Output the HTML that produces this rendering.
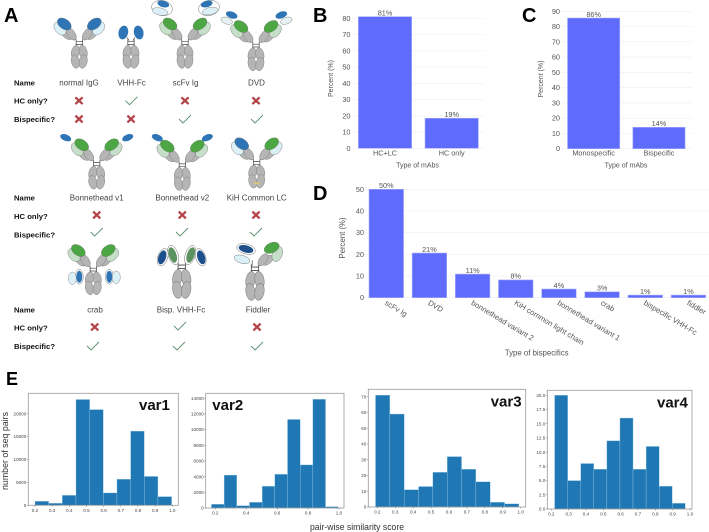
<!DOCTYPE html>
<html lang="en">
<head>
<meta charset="utf-8">
<title>Antibody formats figure</title>
<style>
html,body{margin:0;padding:0;background:#fff;}
body{width:709px;height:532px;overflow:hidden;}
svg{display:block;font-family:"Liberation Sans",sans-serif;filter:blur(.3px);}
.lobe{fill:#b5b5b5;stroke:#808080;stroke-width:.45;}
.vh{fill:var(--h);stroke:#666;stroke-width:.3;}
.vl{fill:var(--l);stroke:#777;stroke-width:.4;}
.vh2{fill:var(--h2,var(--h));stroke:#666;stroke-width:.3;}
.vl2{fill:var(--l2,var(--l));stroke:#777;stroke-width:.4;}
.panel{font-weight:bold;fill:#000;}
.rowh{font-weight:bold;font-size:7.7px;fill:#111;}
.nm{font-size:8px;fill:#444;text-anchor:middle;}
.tick{font-size:7.3px;fill:#555;}
.title{font-size:7px;fill:#555;text-anchor:middle;}
.ht{font-size:4.6px;fill:#444;}
.vt{font-size:15px;font-weight:bold;fill:#111;}
</style>
</head>
<body>
<svg id="fig" width="709" height="532" viewBox="0 0 709 532" xmlns="http://www.w3.org/2000/svg">
<defs>
  <g id="fc">
    <g fill="none" stroke="#444" stroke-width=".7">
      <path d="M-3.2-4V2.8M3.2-4V2.8M-3.2-1.8H3.2M-3.2 1H3.2"/>
    </g>
    <ellipse class="lobe" cx="-3.9" cy="8.6" rx="4" ry="6.9" transform="rotate(12 -3.9 8.6)"/>
    <ellipse class="lobe" cx="3.9" cy="8.6" rx="4" ry="6.9" transform="rotate(-12 3.9 8.6)"/>
    <ellipse class="lobe" cx="-3.9" cy="18" rx="4" ry="6.9" transform="rotate(-12 -3.9 18)"/>
    <ellipse class="lobe" cx="3.9" cy="18" rx="4" ry="6.9" transform="rotate(12 3.9 18)"/>
  </g>
  <g id="arm">
    <path d="M-3.2-3.5L-5-6" stroke="#555" stroke-width=".7" fill="none"/>
    <ellipse class="lobe" cx="-12.5" cy="-9" rx="3.8" ry="6.5" transform="rotate(-50 -12.5 -9)"/>
    <ellipse class="lobe" cx="-8" cy="-9.5" rx="3.8" ry="7" transform="rotate(-35 -8 -9.5)"/>
  </g>
  <g id="ig">
    <use href="#fc"/>
    <use href="#arm"/>
    <use href="#arm" transform="scale(-1,1)"/>
    <ellipse class="vl" cx="-19.3" cy="-15" rx="5" ry="7.5" transform="rotate(-40 -19.3 -15)"/>
    <ellipse class="vh" cx="-15" cy="-19.5" rx="7.8" ry="5" transform="rotate(35 -15 -19.5)"/>
    <ellipse class="vl2" cx="19.3" cy="-15" rx="5" ry="7.5" transform="rotate(40 19.3 -15)"/>
    <ellipse class="vh2" cx="15" cy="-19.5" rx="7.8" ry="5" transform="rotate(-35 15 -19.5)"/>
  </g>
  <g id="xm"><path d="M-3.6-3.4L3.6 3.4M-3.6 3.4L3.6-3.4" stroke="#b5434a" stroke-width="2.3" fill="none"/></g>
  <g id="ck"><path d="M-6 0L-2 4L6-4" stroke="#5a8f6e" stroke-width=".9" fill="none"/></g>
</defs>
<rect width="709" height="532" fill="#fff"/>

<text class="panel" x="4" y="22" font-size="20">A</text>
<text class="panel" x="313" y="22" font-size="20">B</text>
<text class="panel" x="522" y="22" font-size="20">C</text>
<text class="panel" x="313" y="200" font-size="20">D</text>
<text class="panel" x="6" y="385" font-size="18">E</text>

<g transform="translate(79.3,43.5)" style="--h:#2f75b5;--l:#dcf0f7"><use href="#ig"/></g>
<g transform="translate(131,43.5)">
  <path d="M-2-3L-4-6M2-3L4-6" stroke="#555" stroke-width=".7"/>
  <use href="#fc"/>
  <ellipse cx="-7.7" cy="-11" rx="4.8" ry="7" transform="rotate(12 -7.7 -11)" fill="#2f75b5"/>
  <ellipse cx="7.7" cy="-11" rx="4.8" ry="7" transform="rotate(-12 7.7 -11)" fill="#2f75b5"/>
</g>
<g transform="translate(185,43.5)" style="--h:#4da644;--l:#c6dfc8">
  <use href="#ig"/>
  <ellipse cx="-23" cy="-35.5" rx="10.5" ry="7.5" transform="rotate(12 -23 -35.5)" fill="#fff" stroke="#555" stroke-width=".4"/>
  <ellipse cx="-25" cy="-32" rx="8" ry="3.6" transform="rotate(12 -25 -32)" fill="#dcf0f7" stroke="#777" stroke-width=".4"/>
  <ellipse cx="-21.7" cy="-39.5" rx="6" ry="3.2" transform="rotate(15 -21.7 -39.5)" fill="#2f75b5"/>
  <ellipse cx="24" cy="-35.5" rx="10.5" ry="7.5" transform="rotate(-12 24 -35.5)" fill="#fff" stroke="#555" stroke-width=".4"/>
  <ellipse cx="25" cy="-32.5" rx="8" ry="3.6" transform="rotate(-12 25 -32.5)" fill="#dcf0f7" stroke="#777" stroke-width=".4"/>
  <ellipse cx="21.7" cy="-39.5" rx="6" ry="3.2" transform="rotate(-15 21.7 -39.5)" fill="#2f75b5"/>
</g>
<g transform="translate(256,46)" style="--h:#4da644;--l:#c6dfc8">
  <use href="#ig"/>
  <ellipse cx="-24.3" cy="-31" rx="6" ry="3.3" transform="rotate(20 -24.3 -31)" fill="#2f75b5"/>
  <ellipse cx="-29.3" cy="-25.3" rx="6" ry="3.3" transform="rotate(20 -29.3 -25.3)" fill="#e6f2f4" stroke="#777" stroke-width=".4"/>
  <ellipse cx="25.3" cy="-31" rx="6" ry="3.3" transform="rotate(-20 25.3 -31)" fill="#2f75b5"/>
  <ellipse cx="30.3" cy="-25.3" rx="6" ry="3.3" transform="rotate(-20 30.3 -25.3)" fill="#e6f2f4" stroke="#777" stroke-width=".4"/>
</g>
<g transform="translate(96.7,164.3)" style="--h:#4da644;--l:#c6dfc8">
  <use href="#ig"/>
  <ellipse cx="-31" cy="-26.6" rx="5.8" ry="3.2" transform="rotate(22 -31 -26.6)" fill="#2f75b5"/>
  <ellipse cx="31" cy="-26.6" rx="5.8" ry="3.2" transform="rotate(-22 31 -26.6)" fill="#2f75b5"/>
</g>
<g transform="translate(182.3,165.7)" style="--h:#4da644;--l:#c6dfc8">
  <use href="#ig"/>
  <ellipse cx="-25" cy="-28" rx="5.8" ry="3.2" transform="rotate(22 -25 -28)" fill="#2f75b5"/>
  <ellipse cx="25" cy="-28" rx="5.8" ry="3.2" transform="rotate(-22 25 -28)" fill="#2f75b5"/>
</g>
<g transform="translate(256.7,163.3)" style="--h:#2f75b5;--l:#dcf0f7;--h2:#4da644;--l2:#d8eef2">
  <use href="#ig"/>
  <ellipse cx="0" cy="20" rx="3.4" ry="1.1" fill="#d8c878"/>
</g>
<g transform="translate(93.3,270)" style="--h:#4da644;--l:#c6dfc8">
  <use href="#ig"/>
  <ellipse cx="-14" cy="6.7" rx="4" ry="7.5" fill="#fff" stroke="#555" stroke-width=".4"/>
  <ellipse cx="-21" cy="8.3" rx="4" ry="6.3" fill="#dcf0f7" stroke="#777" stroke-width=".4"/>
  <ellipse cx="-14" cy="6.7" rx="3" ry="6" fill="#2f75b5"/>
  <ellipse cx="16" cy="6.7" rx="4" ry="7.5" fill="#fff" stroke="#555" stroke-width=".4"/>
  <ellipse cx="23" cy="7.3" rx="4" ry="6.3" fill="#dcf0f7" stroke="#777" stroke-width=".4"/>
  <ellipse cx="16" cy="6.7" rx="3" ry="6" fill="#2f75b5"/>
</g>
<g transform="translate(181.7,267.3)">
  <use href="#fc" transform="scale(1.15,1.25)"/>
  <ellipse cx="-8.5" cy="-12.3" rx="5" ry="10" transform="rotate(-18 -8.5 -12.3)" fill="#fff" stroke="#555" stroke-width=".4"/>
  <ellipse cx="-9" cy="-12.3" rx="3.8" ry="8" transform="rotate(-18 -9 -12.3)" fill="#5c9160"/>
  <ellipse cx="-19" cy="-10" rx="5" ry="9" transform="rotate(18 -19 -10)" fill="#fff" stroke="#555" stroke-width=".4"/>
  <ellipse cx="-19.5" cy="-10" rx="3.8" ry="7.2" transform="rotate(18 -19.5 -10)" fill="#1c4f8c"/>
  <ellipse cx="8.5" cy="-12.3" rx="5" ry="10" transform="rotate(18 8.5 -12.3)" fill="#fff" stroke="#555" stroke-width=".4"/>
  <ellipse cx="9" cy="-12.3" rx="3.8" ry="8" transform="rotate(18 9 -12.3)" fill="#5c9160"/>
  <ellipse cx="19" cy="-10" rx="5" ry="9" transform="rotate(-18 19 -10)" fill="#fff" stroke="#555" stroke-width=".4"/>
  <ellipse cx="19.5" cy="-10" rx="3.8" ry="7.2" transform="rotate(-18 19.5 -10)" fill="#1c4f8c"/>
</g>
<g transform="translate(255,269.3)" style="--h:#4da644;--l:#c6dfc8">
  <use href="#fc" transform="scale(1.15,1.25)"/>
  <use href="#arm" transform="scale(-1,1)"/>
  <ellipse class="vl2" cx="22.3" cy="-15.3" rx="5" ry="8" transform="rotate(20 22.3 -15.3)"/>
  <ellipse class="vh2" cx="16.7" cy="-21.5" rx="8" ry="5" transform="rotate(-25 16.7 -21.5)"/>
  <path d="M-2.8-3.5V-9" stroke="#666" stroke-width=".8"/>
  <ellipse cx="-9" cy="-20.3" rx="9.5" ry="5" transform="rotate(15 -9 -20.3)" fill="#fff" stroke="#555" stroke-width=".4"/>
  <ellipse cx="-9" cy="-20.3" rx="7.5" ry="3.6" transform="rotate(15 -9 -20.3)" fill="#1c4f8c"/>
  <ellipse cx="-13" cy="-10" rx="8" ry="4" transform="rotate(15 -13 -10)" fill="#dcf0f7" stroke="#666" stroke-width=".4"/>
</g>

<g>
  <text class="rowh" x="14" y="85.7">Name</text>
  <text class="rowh" x="14" y="103.7">HC only?</text>
  <text class="rowh" x="14" y="122">Bispecific?</text>
  <text class="nm" x="79" y="85.7">normal IgG</text>
  <text class="nm" x="131.5" y="85.7">VHH-Fc</text>
  <text class="nm" x="185.5" y="85.7">scFv Ig</text>
  <text class="nm" x="256.5" y="85.7">DVD</text>
  <use href="#xm" x="79" y="100.7"/>
  <use href="#ck" x="131.5" y="100.7"/>
  <use href="#xm" x="185" y="100.7"/>
  <use href="#xm" x="256" y="100.7"/>
  <use href="#xm" x="79" y="119"/>
  <use href="#xm" x="131" y="119"/>
  <use href="#ck" x="185" y="119"/>
  <use href="#ck" x="257" y="119"/>

  <text class="rowh" x="14" y="200.3">Name</text>
  <text class="rowh" x="14" y="219">HC only?</text>
  <text class="rowh" x="14" y="237.3">Bispecific?</text>
  <text class="nm" x="96.7" y="200.3">Bonnethead v1</text>
  <text class="nm" x="182.3" y="200.3">Bonnethead v2</text>
  <text class="nm" x="256.7" y="200.3">KiH Common LC</text>
  <use href="#xm" x="96.7" y="215"/>
  <use href="#xm" x="182.3" y="215"/>
  <use href="#xm" x="256" y="215"/>
  <use href="#ck" x="96.7" y="232"/>
  <use href="#ck" x="182" y="232"/>
  <use href="#ck" x="256" y="232"/>

  <text class="rowh" x="14" y="312.3">Name</text>
  <text class="rowh" x="14" y="330.7">HC only?</text>
  <text class="rowh" x="14" y="349">Bispecific?</text>
  <text class="nm" x="95" y="312.3">crab</text>
  <text class="nm" x="181" y="312.3">Bisp. VHH-Fc</text>
  <text class="nm" x="258" y="312.3">Fiddler</text>
  <use href="#xm" x="94.7" y="327"/>
  <use href="#ck" x="180" y="326"/>
  <use href="#xm" x="257" y="327"/>
  <use href="#ck" x="93" y="346"/>
  <use href="#ck" x="179" y="346"/>
  <use href="#ck" x="257" y="346"/>
</g>

<text transform="translate(8,451) rotate(-90)" font-size="9.5" fill="#333" text-anchor="middle" textLength="78" lengthAdjust="spacingAndGlyphs">number of seq pairs</text>
<text x="357" y="530" font-size="9.5" fill="#333" text-anchor="middle" textLength="94" lengthAdjust="spacingAndGlyphs">pair-wise similarity score</text>
</svg>

<script>
var bCategories = ["HC+LC", "HC only"];
var bValues = [81, 18.5];
var bLabels = ["81%", "19%"];
var bTicks = [0, 10, 20, 30, 40, 50, 60, 70, 80];

var cCategories = ["Monospecific", "Bispecific"];
var cValues = [85.6, 14];
var cLabels = ["86%", "14%"];
var cTicks = [0, 10, 20, 30, 40, 50, 60, 70, 80, 90];

var dCategories = ["scFv Ig", "DVD", "bonnethead variant 2", "KiH common light chain", "bonnethead variant 1", "crab", "bispecific VHH-Fc", "fiddler"];
var dValues = [50, 20.6, 10.9, 8.2, 4, 2.7, 1.2, 1.2];
var dLabels = ["50%", "21%", "11%", "8%", "4%", "3%", "1%", "1%"];
var dTicks = [0, 10, 20, 30, 40, 50];

var var1Counts = [870, 430, 2170, 23100, 20900, 2700, 5700, 16200, 6300, 1900];
var var1Range = [0.2, 0.996];
var var1YTicks = [0, 5000, 10000, 15000, 20000];
var var1XTicks = [0.2, 0.3, 0.4, 0.5, 0.6, 0.7, 0.8, 0.9, 1.0];

var var2Counts = [470, 4200, 300, 720, 2770, 4300, 11300, 5500, 13870, 170];
var var2Range = [0.175, 0.995];
var var2YTicks = [0, 2000, 4000, 6000, 8000, 10000, 12000, 14000];
var var2XTicks = [0.2, 0.4, 0.6, 0.8, 1.0];

var var3Counts = [71, 59, 11, 13, 22, 32, 24, 16, 3, 2];
var var3Range = [0.19, 0.99];
var var3YTicks = [0, 10, 20, 30, 40, 50, 60, 70];
var var3XTicks = [0.2, 0.3, 0.4, 0.5, 0.6, 0.7, 0.8, 0.9, 1.0];

var var4Counts = [20, 5, 8, 7, 12, 16, 7, 11, 4, 1];
var var4Range = [0.219, 0.973];
var var4YTicks = [0, 2.5, 5, 7.5, 10, 12.5, 15, 17.5, 20];
var var4XTicks = [0.2, 0.3, 0.4, 0.5, 0.6, 0.7, 0.8, 0.9, 1.0];

var NS = "http://www.w3.org/2000/svg";
var fig = document.getElementById("fig");

function make(tag, parent, attrs, txt) {
  var el = document.createElementNS(NS, tag);
  for (var k in attrs) { el.setAttribute(k, attrs[k]); }
  if (txt !== undefined) { el.textContent = txt; }
  parent.appendChild(el);
  return el;
}
function linear(d0, r0, d1, r1) {
  return function (v) { return r0 + (v - d0) * (r1 - r0) / (d1 - d0); };
}

function drawBars(name, cats, vals, labels, ticks, L) {
  var g = make("g", fig, {});
  
  
  var y = linear(0, L.y0, L.d1, L.y1);
  ticks.forEach(function (t) {
    var line = make("line", g, { x1: L.x0, x2: L.x1, y1: y(t), y2: y(t), stroke: "#eef0f5", "stroke-width": 0.7 });
    
    
    var lab = make("text", g, { x: L.tickX, y: y(t) + 2.5, "text-anchor": "end", "class": "tick" }, String(t));
    
    
  });
  var band = (L.x1 - L.x0) / cats.length;
  var bw = band * 0.8;
  cats.forEach(function (c, i) {
    var left = L.x0 + band * i + (band - bw) / 2;
    var mid = left + bw / 2;
    var bar = make("rect", g, { x: left, y: y(vals[i]), width: bw, height: y(0) - y(vals[i]), fill: "#5f6bfb", stroke: "#a6acfc", "stroke-width": 0.6 });
    
    
    var val = make("text", g, { x: mid, y: y(vals[i]) - 1.2, "text-anchor": "middle", "class": "tick" }, labels[i]);
    
    
    var cat;
    if (L.rotate) {
      cat = make("text", g, { "class": "tick", style: "font-size:7.6px", "text-anchor": "start", transform: "translate(" + (mid - 2) + "," + (y(0) + 6.5) + ") rotate(31)" }, c);
    } else {
      cat = make("text", g, { x: mid, y: y(0) + 7, "text-anchor": "middle", "class": "tick" }, c);
    }
    
    
  });
  var xt = make("text", g, { x: L.titleX, y: L.titleY, "class": "title", style: "font-size:" + L.titleSize + "px" }, L.xTitle);
  
  
  var yt = make("text", g, { "class": "title", style: "font-size:" + L.titleSize + "px", transform: "translate(" + L.yTitleX + "," + L.yTitleY + ") rotate(-90)" }, "Percent (%)");
  
  
}

function drawHist(name, counts, range, yTicks, xTicks, L) {
  var g = make("g", fig, {});
  
  
  var x = linear(L.xv0, L.xp0, L.xv1, L.xp1);
  var y = linear(0, L.bottom, L.yv, L.yp);
  var w = (range[1] - range[0]) / counts.length;
  counts.forEach(function (c, i) {
    var a = x(range[0] + w * i), b = x(range[0] + w * (i + 1));
    var r = make("rect", g, { x: a, y: y(c), width: b - a, height: L.bottom - y(c), fill: "#1f77b4", stroke: "#9ccbe6", "stroke-width": 0.35 });
    
    
  });
  var f = make("rect", g, { x: L.left, y: L.top, width: L.right - L.left, height: L.bottom - L.top, fill: "none", stroke: "#999", "stroke-width": 0.8 });
  
  
  yTicks.forEach(function (t) {
    make("line", g, { x1: L.left - 1.5, x2: L.left, y1: y(t), y2: y(t), stroke: "#555", "stroke-width": 0.4 });
    var lab = make("text", g, { x: L.left - 2, y: y(t) + 1.6, "text-anchor": "end", "class": "ht" }, L.yFixed ? t.toFixed(1) : String(t));
    
    
  });
  xTicks.forEach(function (t) {
    make("line", g, { x1: x(t), x2: x(t), y1: L.bottom, y2: L.bottom + 1.5, stroke: "#555", "stroke-width": 0.4 });
    var lab = make("text", g, { x: x(t), y: L.bottom + 6.5, "text-anchor": "middle", "class": "ht" }, t.toFixed(1));
    
    
  });
  var tag = make("text", g, { x: L.nameX, y: L.nameY, "class": "vt" }, name);
  
  
}

drawBars("hc-lc", bCategories, bValues, bLabels, bTicks, { x0: 351.7, x1: 485, y0: 148.3, y1: 18.3, d1: 80, tickX: 350.5, titleX: 417.5, titleY: 167.5, yTitleX: 333, yTitleY: 78.5, xTitle: "Type of mAbs", titleSize: 7 });
drawBars("specificity", cCategories, cValues, cLabels, cTicks, { x0: 561, x1: 691.6, y0: 148.7, y1: 11.3, d1: 90, tickX: 560, titleX: 626, titleY: 167.5, yTitleX: 543, yTitleY: 79, xTitle: "Type of mAbs", titleSize: 7 });
drawBars("bispecifics", dCategories, dValues, dLabels, dTicks, { x0: 364.7, x1: 710, y0: 297.7, y1: 189.3, d1: 50, tickX: 364, titleX: 536.7, titleY: 355.5, yTitleX: 345, yTitleY: 238, xTitle: "Type of bispecifics", rotate: true, titleSize: 7.8 });

drawHist("var1", var1Counts, var1Range, var1YTicks, var1XTicks, { left: 28.3, right: 178.3, top: 393.3, bottom: 505.3, xv0: 0.2, xp0: 35, xv1: 1.0, xp1: 172.3, yv: 20000, yp: 413.7, nameX: 139, nameY: 410 });
drawHist("var2", var2Counts, var2Range, var2YTicks, var2XTicks, { left: 205.7, right: 344, top: 393.3, bottom: 508, xv0: 0.2, xp0: 215.3, xv1: 1.0, xp1: 339, yv: 14000, yp: 398.3, nameX: 212.3, nameY: 410 });
drawHist("var3", var3Counts, var3Range, var3YTicks, var3XTicks, { left: 368.3, right: 525.7, top: 389.3, bottom: 507, xv0: 0.2, xp0: 377.3, xv1: 1.0, xp1: 520.7, yv: 70, yp: 396.7, nameX: 490.7, nameY: 406.7 });
drawHist("var4", var4Counts, var4Range, var4YTicks, var4XTicks, { left: 547.3, right: 692, top: 390.3, bottom: 509, xv0: 0.2, xp0: 551.3, xv1: 1.0, xp1: 690, yv: 20, yp: 395.3, nameX: 657, nameY: 407.7, yFixed: true });
</script>
</body>
</html>
